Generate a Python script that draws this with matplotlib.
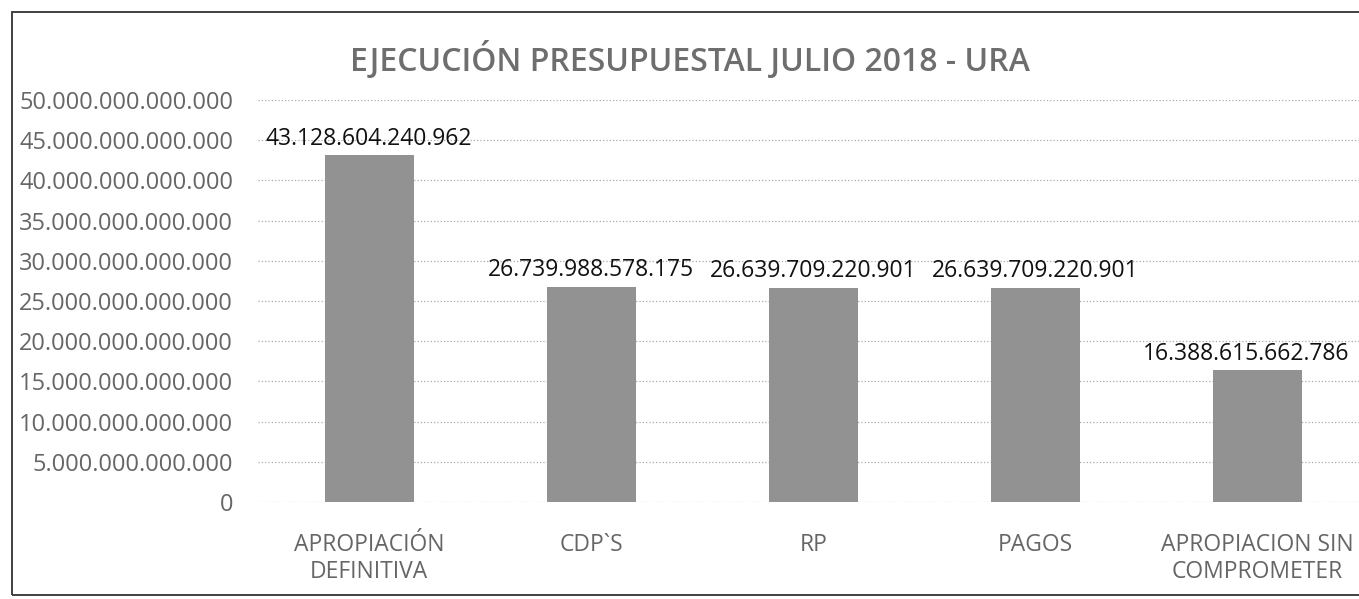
import matplotlib
matplotlib.use('Agg')
import matplotlib.pyplot as plt
from matplotlib.patches import Rectangle
from matplotlib.ticker import FuncFormatter

plt.rcParams['font.family'] = ['Open Sans', 'DejaVu Sans']

categories = ['APROPIACIÓN\nDEFINITIVA', 'CDP`S', 'RP', 'PAGOS', 'APROPIACION SIN\nCOMPROMETER']
values = [43128604240962, 26739988578175, 26639709220901, 26639709220901, 16388615662786]
yticks = [0, 5e12, 10e12, 15e12, 20e12, 25e12, 30e12, 35e12, 40e12, 45e12, 50e12]


def miles(v, pos=None):
    return '{:,.0f}'.format(v).replace(',', '.')


fig = plt.figure(figsize=(13.59, 5.99), dpi=100)
ax = fig.add_axes([0.190, 0.162, 0.817, 0.671])

xs = range(len(categories))
ax.bar(xs, values, width=0.4, color='#929292', zorder=2)
for x, v in zip(xs, values):
    # last label sits a bit left of its bar, as in the original
    dx = -8 if x == len(values) - 1 else 0
    ax.annotate(miles(v), (x, v), xytext=(dx, 12), textcoords='offset points',
                ha='center', va='center', fontsize=16.5, color='#111111')

ax.set_xlim(-0.5, len(categories) - 0.5)
ax.set_ylim(0, 50e12)
ax.set_yticks(yticks)
ax.yaxis.set_major_formatter(FuncFormatter(miles))
ax.set_xticks(list(xs))
ax.set_xticklabels(categories, fontsize=16.5, color='#666666', linespacing=1.2)
ax.tick_params(axis='y', labelsize=17, labelcolor='#666666', length=0, pad=18)
ax.tick_params(axis='x', length=0, pad=22)
ax.grid(axis='y', linestyle=':', color='#aaaaaa', linewidth=0.9, zorder=0)
for s in ax.spines.values():
    s.set_visible(False)

fig.text(0.508, 0.9, 'EJECUCIÓN PRESUPUESTAL JULIO 2018 - URA', ha='center', va='center',
         fontsize=23, color='#6e6e6e', fontweight='semibold')

fig.patches.append(Rectangle((0.009, 0.007), 1.2, 0.973, transform=fig.transFigure,
                             fill=False, edgecolor='#333333', linewidth=1.3))

fig.savefig('out.png', dpi=100, facecolor='white')
